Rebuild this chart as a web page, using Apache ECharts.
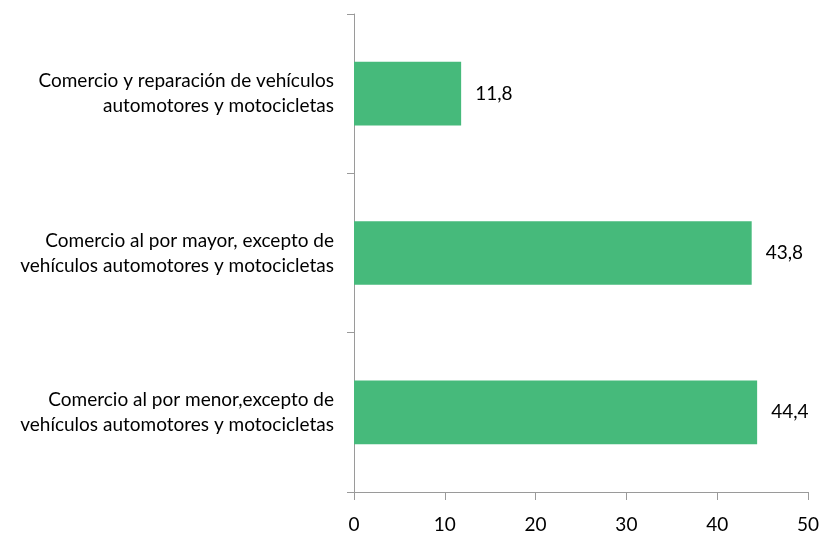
<!DOCTYPE html>
<html>
<head>
<meta charset="utf-8">
<script src="https://cdn.jsdelivr.net/npm/echarts@6/dist/echarts.min.js"></script>
<style>
  html, body { margin: 0; padding: 0; background: #fff; }
  #chart { width: 822px; height: 535px; }
</style>
</head>
<body>
<div id="chart"></div>
<script>
// categories from bottom to top
var categories = [
    "Comercio al por menor,excepto de\nvehículos automotores y motocicletas",
    "Comercio al por mayor, excepto de\nvehículos automotores y motocicletas",
    "Comercio y reparación de vehículos\nautomotores y motocicletas"
];
var values = [44.4, 43.8, 11.8];
var xTicks = [0, 10, 20, 30, 40, 50];

var axisColor = "#9a9a9a";
var fontName = "Lato, 'Open Sans', sans-serif";

var myChart = echarts.init(document.getElementById("chart"));

var option = {
    animation: false,
    grid: { left: 354, right: 11, top: 14, bottom: 43 },
    xAxis: {
        type: "value",
        min: xTicks[0],
        max: xTicks[xTicks.length - 1],
        interval: 10,
        axisLine: { show: true, lineStyle: { color: axisColor, width: 1 } },
        axisTick: { show: true, length: 8, lineStyle: { color: axisColor } },
        splitLine: { show: false },
        axisLabel: { color: "#000", fontSize: 19, fontFamily: fontName, margin: 23 }
    },
    yAxis: {
        type: "category",
        data: categories,
        axisLine: { show: true, lineStyle: { color: axisColor, width: 1 } },
        axisTick: { show: true, length: 7, lineStyle: { color: axisColor } },
        axisLabel: {
            color: "#000", fontSize: 19, fontFamily: fontName,
            margin: 20, lineHeight: 25, align: "right"
        }
    },
    series: [{
        type: "bar",
        data: values,
        barWidth: "40%",
        itemStyle: { color: "#46ba7b" },
        label: {
            show: true,
            position: "right",
            distance: 14,
            color: "#000",
            fontSize: 19,
            fontFamily: fontName,
            formatter: function (p) { return String(p.value).replace(".", ","); }
        }
    }]
};

myChart.setOption(option);
</script>
</body>
</html>
